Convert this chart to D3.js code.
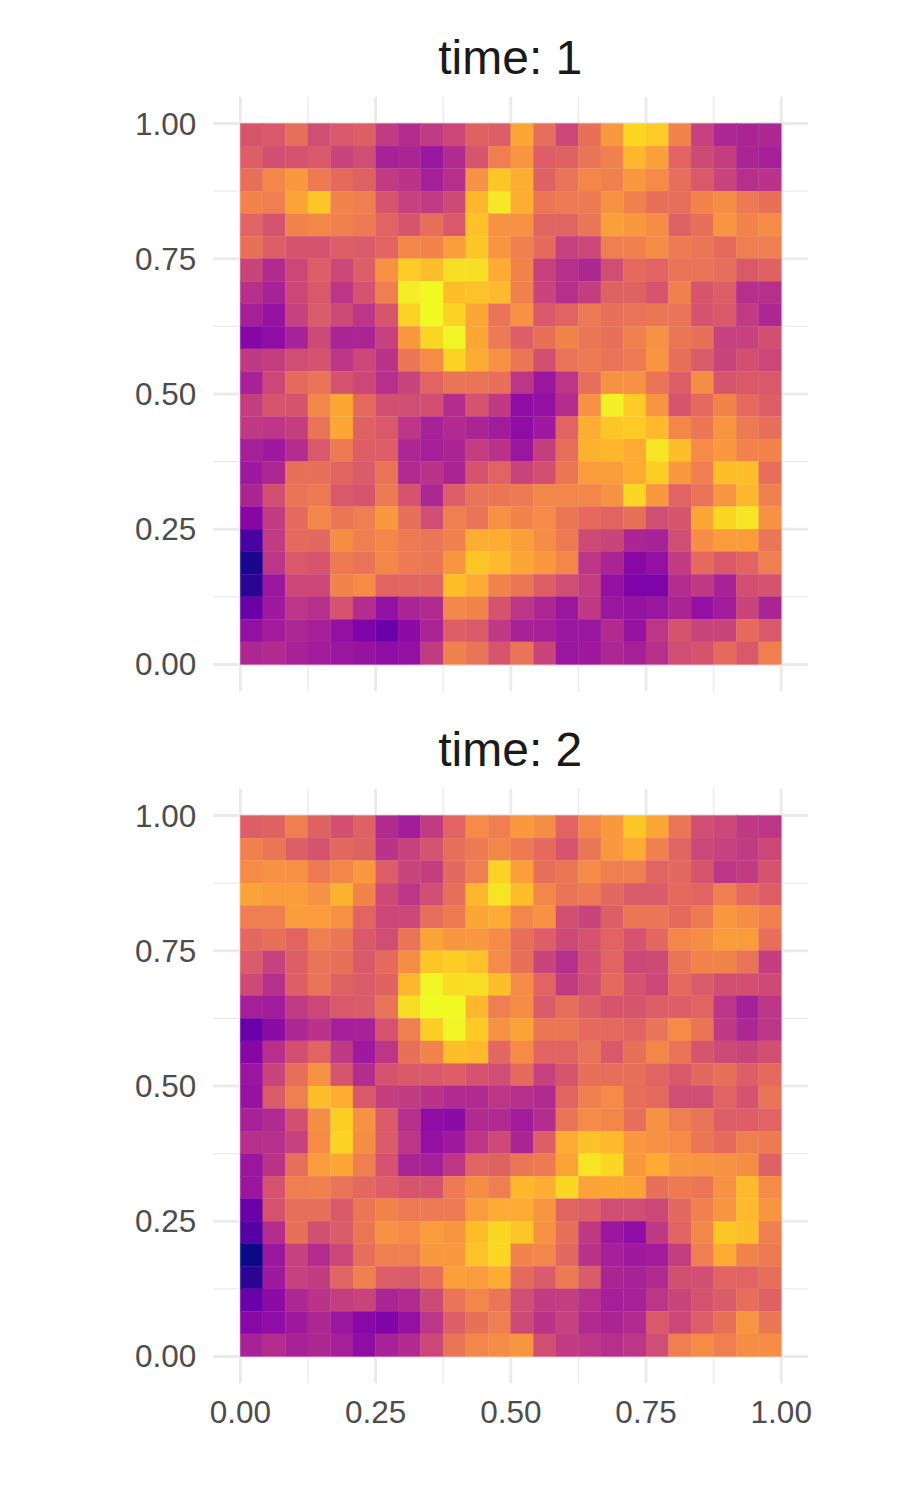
<!DOCTYPE html>
<html>
<head>
<meta charset="utf-8">
<script src="https://cdn.jsdelivr.net/npm/d3@7"></script>
<style>
  body { margin: 0; background: #fff; }
  text { font-family: "Liberation Sans", sans-serif; }
</style>
</head>
<body>
<svg id="chart" width="897" height="1495"></svg>
<script>
// values, one list per row, top row first
const time1 = [
  [.55,.56,.63,.52,.56,.58,.46,.41,.46,.50,.59,.58,.80,.63,.50,.64,.76,.92,.89,.70,.48,.39,.38,.39],
  [.58,.53,.54,.56,.49,.52,.37,.38,.33,.40,.55,.68,.75,.58,.59,.65,.69,.84,.78,.60,.51,.47,.38,.36],
  [.64,.71,.76,.67,.62,.59,.46,.43,.36,.42,.74,.88,.82,.59,.65,.71,.69,.76,.72,.63,.56,.49,.42,.43],
  [.70,.68,.79,.88,.70,.68,.55,.48,.46,.51,.84,.96,.82,.66,.67,.67,.74,.69,.64,.63,.70,.73,.67,.64],
  [.60,.54,.70,.71,.69,.67,.60,.55,.63,.56,.87,.74,.74,.60,.60,.66,.78,.76,.73,.59,.64,.75,.70,.72],
  [.64,.58,.54,.54,.58,.57,.60,.71,.70,.77,.88,.75,.69,.62,.48,.50,.68,.69,.73,.67,.66,.62,.68,.68],
  [.49,.40,.50,.58,.50,.58,.74,.89,.86,.94,.94,.81,.70,.48,.42,.39,.52,.62,.60,.65,.65,.63,.56,.59],
  [.42,.37,.50,.56,.44,.54,.68,.97,1.0,.86,.87,.85,.69,.49,.42,.47,.59,.59,.55,.69,.55,.58,.42,.42],
  [.36,.32,.48,.57,.51,.44,.55,.91,1.0,.91,.80,.65,.74,.56,.60,.67,.64,.65,.66,.65,.54,.56,.46,.39],
  [.27,.30,.37,.51,.38,.38,.48,.76,.92,.99,.80,.67,.58,.64,.70,.66,.64,.69,.74,.66,.64,.48,.48,.53],
  [.45,.47,.52,.54,.44,.50,.43,.66,.72,.91,.81,.74,.66,.53,.65,.67,.65,.67,.75,.64,.57,.49,.53,.50],
  [.37,.50,.62,.65,.54,.50,.42,.49,.60,.65,.65,.64,.44,.33,.44,.63,.74,.74,.65,.58,.73,.55,.56,.56],
  [.47,.55,.54,.71,.80,.62,.53,.52,.53,.41,.54,.45,.30,.31,.41,.74,.98,.89,.75,.55,.62,.70,.62,.58],
  [.45,.44,.47,.65,.80,.59,.56,.44,.37,.40,.38,.35,.30,.34,.60,.82,.88,.89,.85,.71,.66,.75,.67,.63],
  [.36,.34,.41,.56,.67,.58,.58,.39,.36,.38,.47,.43,.33,.47,.63,.83,.84,.81,.95,.86,.72,.76,.70,.70],
  [.34,.39,.64,.64,.60,.57,.65,.40,.43,.38,.54,.60,.49,.53,.66,.77,.77,.81,.90,.76,.68,.86,.86,.63],
  [.38,.53,.65,.67,.56,.55,.67,.54,.39,.58,.65,.66,.67,.71,.71,.71,.74,.92,.76,.60,.65,.75,.84,.69],
  [.27,.46,.62,.71,.66,.68,.76,.64,.52,.68,.65,.74,.70,.72,.66,.62,.60,.64,.52,.55,.80,.92,.95,.74],
  [.12,.46,.62,.61,.73,.68,.71,.67,.66,.69,.82,.82,.78,.73,.67,.51,.49,.38,.37,.52,.73,.77,.77,.66],
  [.02,.44,.56,.55,.67,.65,.71,.67,.66,.75,.88,.85,.80,.76,.71,.44,.38,.28,.31,.46,.62,.56,.60,.68],
  [.05,.33,.50,.50,.70,.72,.60,.60,.60,.86,.81,.70,.66,.58,.52,.47,.31,.25,.25,.41,.45,.37,.53,.54],
  [.20,.34,.44,.42,.54,.41,.31,.38,.40,.71,.70,.54,.44,.39,.33,.45,.33,.32,.33,.38,.31,.35,.49,.38],
  [.31,.35,.39,.36,.31,.25,.20,.29,.38,.58,.57,.45,.37,.36,.33,.33,.40,.32,.44,.54,.49,.49,.62,.56],
  [.39,.40,.37,.35,.33,.32,.30,.31,.46,.69,.65,.55,.65,.49,.33,.34,.39,.36,.42,.52,.54,.62,.56,.68]
];
const time2 = [
  [.58,.59,.68,.59,.53,.59,.40,.35,.46,.60,.72,.68,.76,.73,.60,.71,.76,.88,.80,.66,.52,.50,.45,.44],
  [.69,.66,.58,.54,.61,.59,.43,.48,.54,.63,.67,.71,.67,.62,.55,.66,.76,.81,.69,.60,.50,.48,.46,.50],
  [.72,.74,.74,.67,.71,.76,.58,.49,.47,.61,.68,.91,.78,.63,.66,.72,.68,.68,.60,.61,.55,.44,.46,.54],
  [.79,.77,.77,.74,.83,.70,.51,.44,.52,.63,.84,.95,.86,.71,.65,.67,.61,.57,.57,.62,.60,.68,.62,.58],
  [.68,.68,.77,.77,.74,.60,.50,.50,.63,.67,.80,.81,.71,.74,.53,.49,.58,.66,.66,.62,.67,.76,.73,.69],
  [.61,.64,.60,.68,.66,.56,.52,.65,.79,.75,.76,.72,.63,.58,.51,.54,.60,.54,.61,.71,.73,.77,.77,.63],
  [.57,.48,.58,.65,.64,.56,.62,.73,.88,.90,.87,.72,.64,.49,.42,.53,.60,.50,.51,.65,.70,.70,.65,.47],
  [.51,.42,.58,.65,.59,.57,.59,.84,.99,.93,.94,.86,.72,.60,.46,.52,.62,.54,.50,.62,.57,.53,.53,.51],
  [.36,.35,.46,.50,.56,.57,.65,.93,1.0,1.0,.84,.68,.73,.57,.63,.58,.55,.55,.58,.58,.60,.44,.36,.44],
  [.20,.29,.39,.43,.36,.37,.54,.68,.90,.99,.89,.74,.79,.66,.66,.62,.62,.60,.65,.72,.65,.45,.39,.44],
  [.27,.42,.53,.60,.45,.34,.44,.64,.70,.86,.85,.61,.72,.60,.60,.65,.56,.64,.71,.65,.55,.51,.49,.53],
  [.33,.49,.63,.74,.55,.41,.54,.56,.56,.58,.54,.52,.62,.48,.55,.64,.63,.64,.60,.56,.61,.64,.58,.62],
  [.32,.57,.68,.86,.82,.56,.47,.46,.43,.40,.40,.44,.42,.40,.60,.69,.72,.63,.62,.52,.52,.60,.54,.65],
  [.37,.40,.53,.73,.90,.74,.57,.42,.30,.29,.40,.40,.35,.41,.65,.72,.71,.63,.74,.68,.65,.58,.58,.60],
  [.42,.42,.48,.72,.91,.73,.57,.44,.31,.34,.44,.51,.38,.58,.81,.87,.85,.76,.74,.72,.66,.62,.68,.67],
  [.33,.43,.63,.77,.80,.68,.54,.38,.36,.44,.60,.59,.66,.67,.79,.95,.92,.76,.81,.76,.75,.74,.73,.59],
  [.33,.54,.68,.69,.65,.61,.58,.55,.54,.67,.73,.68,.84,.82,.92,.79,.80,.79,.64,.67,.66,.74,.85,.72],
  [.20,.54,.63,.63,.56,.66,.70,.67,.67,.67,.77,.81,.81,.75,.60,.58,.52,.52,.50,.61,.69,.75,.85,.75],
  [.15,.41,.64,.53,.57,.66,.74,.72,.77,.75,.86,.92,.88,.74,.64,.45,.33,.30,.45,.60,.71,.88,.86,.68],
  [.00,.33,.48,.41,.50,.63,.68,.68,.76,.76,.87,.92,.70,.71,.61,.43,.36,.34,.35,.47,.68,.81,.70,.67],
  [.05,.34,.48,.46,.60,.69,.58,.57,.63,.78,.77,.81,.62,.57,.67,.57,.38,.37,.40,.53,.53,.60,.60,.63],
  [.20,.29,.39,.43,.47,.49,.38,.40,.51,.65,.71,.66,.52,.46,.47,.42,.36,.37,.44,.49,.54,.57,.63,.59],
  [.28,.30,.34,.39,.33,.28,.26,.31,.44,.58,.64,.68,.51,.43,.48,.40,.38,.40,.56,.50,.58,.64,.75,.66],
  [.37,.41,.37,.39,.36,.30,.37,.40,.50,.65,.71,.73,.75,.53,.46,.44,.42,.44,.52,.68,.72,.68,.73,.73]
];
const panels = [
  {title: "time: 1", values: time1},
  {title: "time: 2", values: time2}
];
const majorTicks = [0, .25, .5, .75, 1];
const minorTicks = [.125, .375, .625, .875];

const margin = {l: 213.3, t: 96.5};
const panelSize = 595;
const panelGap = 692; // top of one panel to top of the next

const svg = d3.select("#chart");

// 5% expansion on both sides, same as the ggplot panel
const x = d3.scaleLinear().domain([-.05, 1.05]).range([0, panelSize]);
const y = d3.scaleLinear().domain([-.05, 1.05]).range([panelSize, 0]);
const color = d3.scaleSequential(d3.interpolatePlasma).domain([0, 1]);
const fmt = d3.format(".2f");

panels.forEach((p, k) => {
  const g = svg.append("g")
    .attr("transform", `translate(${margin.l},${margin.t + k * panelGap})`);

  // minor grid first, then major with the labels
  const minorX = d3.axisBottom(x).tickValues(minorTicks).tickSize(-panelSize).tickFormat("").offset(0);
  const minorY = d3.axisLeft(y).tickValues(minorTicks).tickSize(-panelSize).tickFormat("").offset(0);
  g.append("g").attr("class", "minor").attr("transform", `translate(0,${panelSize})`).call(minorX);
  g.append("g").attr("class", "minor").call(minorY);

  const majorX = d3.axisBottom(x).tickValues(majorTicks).tickSize(-panelSize).tickPadding(17).tickFormat(fmt).offset(0);
  const majorY = d3.axisLeft(y).tickValues(majorTicks).tickSize(-panelSize).tickPadding(17).tickFormat(fmt).offset(0);
  const gx = g.append("g").attr("class", "major").attr("transform", `translate(0,${panelSize})`).call(majorX);
  const gy = g.append("g").attr("class", "major").call(majorY);
  // only the bottom panel has x labels
  if (k < panels.length - 1) gx.selectAll("text").remove();
  gy.selectAll("text").attr("dy", "0.35em");

  g.selectAll(".minor line").attr("stroke", "#ebebeb").attr("stroke-width", 1.4);
  g.selectAll(".major line").attr("stroke", "#ebebeb").attr("stroke-width", 2.9);
  g.selectAll(".domain").remove();
  g.selectAll(".tick text")
    .attr("font-family", '"Liberation Sans", sans-serif')
    .attr("font-size", 31.5)
    .attr("fill", "#4d4d4d");

  const cells = p.values.flatMap((row, r) => row.map((v, c) => ({r, c, v})));
  const n = p.values.length;
  // thin stroke in the fill colour closes the white seams between tiles
  g.selectAll("rect.cell").data(cells).join("rect")
    .attr("class", "cell")
    .attr("x", d => x(d.c / n))
    .attr("y", d => y(1 - d.r / n))
    .attr("width", x(1 / n) - x(0))
    .attr("height", y(0) - y(1 / n))
    .attr("fill", d => color(d.v))
    .attr("stroke", d => color(d.v))
    .attr("stroke-width", .3);

  g.append("text")
    .attr("x", x(.5) - .5)
    .attr("y", -22.5)
    .attr("text-anchor", "middle")
    .attr("font-size", 48)
    .attr("fill", "#1a1a1a")
    .text(p.title);
});
</script>
</body>
</html>
